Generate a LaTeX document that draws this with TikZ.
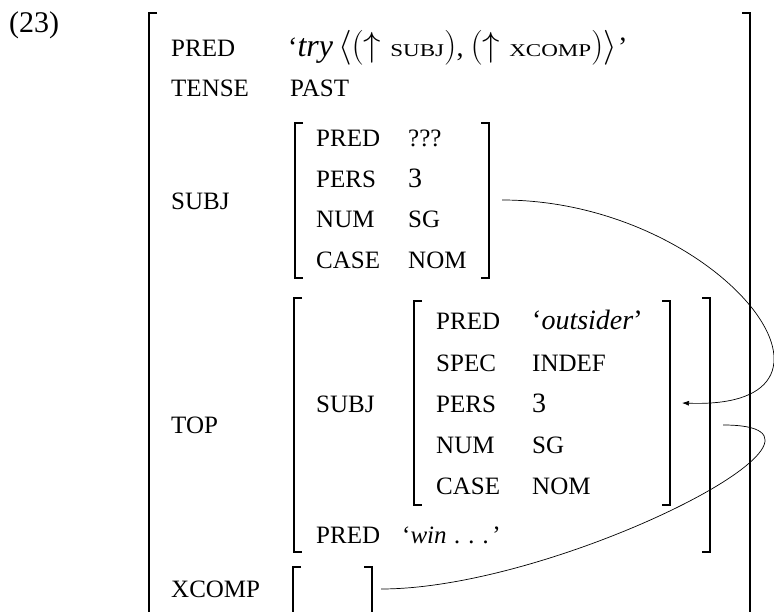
\documentclass[tikz,border=0pt]{standalone}
\usepackage{fontspec}
\setmainfont{Liberation Serif}
\usetikzlibrary{arrows.meta}
\newcommand{\sckap}[1]{\scalebox{1.28}[1]{\fontsize{18}{20}\selectfont #1}}
\newcommand{\mth}[1]{\scalebox{1.4}{$#1$}}
\begin{document}
\begin{tikzpicture}[x=1pt,y=-1pt,
  attr/.style={anchor=base west,inner sep=0pt,font=\fontsize{25}{28}\selectfont},
  big/.style={attr,font=\fontsize{28}{30}\selectfont},
  brk/.style={line width=1.5pt},
  link/.style={line width=0.7pt}]
\useasboundingbox (0,0) rectangle (774,612);
\node[attr,font=\fontsize{30}{32}\selectfont] (exnum) at (9,33) {(23)};
% brackets: left x / right x / top y / bottom y
\foreach \xl/\xr/\yt/\yb in {149/750/13/630,295/489/123/278,294/710/298/552,414/670/301/505,293/372/567/630}
{ \draw[brk] (\xl+8,\yt) -- (\xl,\yt) -- (\xl,\yb) -- (\xl+8,\yb);
  \draw[brk] (\xr-8,\yt) -- (\xr,\yt) -- (\xr,\yb) -- (\xr-8,\yb);}
% outer f-structure
\node[attr] (pred) at (171,57) {PRED};
\node[big] (pred-val) at (288,57) {`{\fontsize{32}{34}\selectfont\textit{try}}\hspace{5pt}\mth{\langle(\uparrow}\hspace{9pt}\sckap{SUBJ}\mth{)},\hspace{7pt}\mth{(\uparrow}\hspace{9pt}\sckap{XCOMP}\mth{)\rangle}\hspace{1pt}'};
\node[attr] (tense) at (171,97) {TENSE};
\node[attr] (tense-val) at (290,97) {PAST};
\node[attr] (subj) at (171,210) {SUBJ};
\node[attr] (top) at (171,433) {TOP};
\node[attr] (xcomp) at (171,597) {XCOMP};
% subj
\foreach \lab/\val/\yy in {PRED/???/147,PERS/{\fontsize{28}{30}\selectfont 3}/188,NUM/SG/228,CASE/NOM/269}
{ \node[attr] (subj-\lab) at (316,\yy) {\lab};
  \node[attr] (subj-\lab-val) at (408,\yy) {\val};}
% top
\node[attr] (top-subj) at (316,412) {SUBJ};
\node[attr] (top-pred) at (316,543) {PRED};
\node[attr] (top-pred-val) at (402,543) {`\textit{win}\hspace{8pt}\textit{.}\hspace{8pt}\textit{.}\hspace{8pt}\textit{.}\hspace{3pt}'};
\foreach \lab/\val/\yy in {PRED/{\fontsize{28}{30}\selectfont`\textit{outsider}'}/330,SPEC/INDEF/371,PERS/{\fontsize{28}{30}\selectfont 3}/412,NUM/SG/453,CASE/NOM/494}
{ \node[attr] (tsubj-\lab) at (436,\yy) {\lab};
  \node[attr] (tsubj-\lab-val) at (532,\yy) {\val};}
% links
\coordinate (subj-end) at (502,200);
\coordinate (tsubj-end) at (682,403);
\coordinate (top-end) at (723,425);
\coordinate (xcomp-end) at (381,589);
\draw[link,-{Latex[length=7pt,width=5pt]}] (subj-end) .. controls +(218,0) and +(198,7) .. (tsubj-end);
\draw[link] (top-end) .. controls +(157,0) and +(179,0) .. (xcomp-end);
\end{tikzpicture}
\end{document}
